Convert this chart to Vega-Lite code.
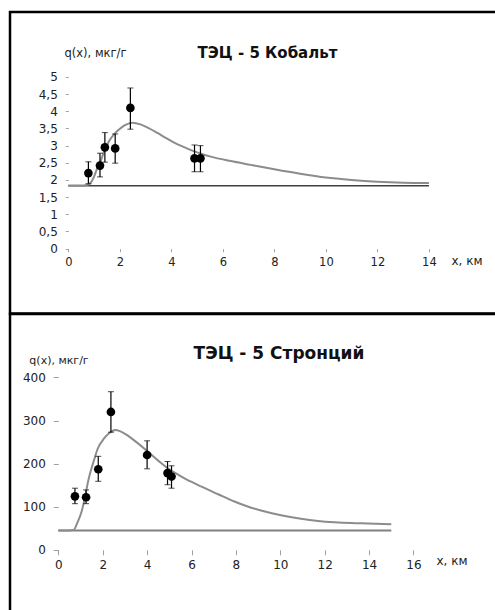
{
  "$schema": "https://vega.github.io/schema/vega-lite/v6.json",
  "padding": {"left": 8, "top": 10, "right": 0, "bottom": 0},
  "spacing": 0,
  "bounds": "flush",
  "config": {
    "view": {"stroke": "black", "strokeWidth": 2.5},
    "font": "DejaVu Sans",
    "axis": {"grid": false, "domain": false, "labelFont": "DejaVu Sans", "labelFontSize": 12, "labelColor": "#222222", "labelOverlap": false, "tickColor": "#a0a0a0", "tickSize": 3, "tickWidth": 1, "labelPadding": 3, "titleFont": "DejaVu Sans", "titleFontWeight": "normal", "titleColor": "#222222", "titleAngle": 0, "titleBaseline": "middle"}
  },
  "datasets": {
    "co_pts": [
      {"x": 0.78, "q": 2.2, "lo": 1.89, "hi": 2.53},
      {"x": 1.23, "q": 2.42, "lo": 2.09, "hi": 2.78},
      {"x": 1.42, "q": 2.95, "lo": 2.52, "hi": 3.38},
      {"x": 1.82, "q": 2.92, "lo": 2.49, "hi": 3.34},
      {"x": 2.41, "q": 4.1, "lo": 3.48, "hi": 4.68},
      {"x": 4.9, "q": 2.63, "lo": 2.24, "hi": 3.02},
      {"x": 5.13, "q": 2.63, "lo": 2.24, "hi": 3.0}
    ],
    "co_curve": [
      {"x": 0, "q": 1.84}, {"x": 0.6, "q": 1.84}, {"x": 0.75, "q": 1.86}, {"x": 0.88, "q": 1.93},
      {"x": 1.0, "q": 2.1}, {"x": 1.13, "q": 2.36}, {"x": 1.27, "q": 2.58}, {"x": 1.4, "q": 2.85},
      {"x": 1.59, "q": 3.14}, {"x": 1.8, "q": 3.35}, {"x": 1.98, "q": 3.48}, {"x": 2.2, "q": 3.6},
      {"x": 2.5, "q": 3.67}, {"x": 2.8, "q": 3.62}, {"x": 3.1, "q": 3.52}, {"x": 3.46, "q": 3.37},
      {"x": 3.8, "q": 3.22}, {"x": 4.11, "q": 3.09}, {"x": 4.45, "q": 2.97}, {"x": 4.76, "q": 2.87},
      {"x": 5.1, "q": 2.78}, {"x": 5.53, "q": 2.68}, {"x": 6.31, "q": 2.55}, {"x": 7.08, "q": 2.44},
      {"x": 8, "q": 2.31}, {"x": 9, "q": 2.18}, {"x": 10, "q": 2.07}, {"x": 11, "q": 2.0},
      {"x": 12, "q": 1.95}, {"x": 13, "q": 1.92}, {"x": 14, "q": 1.91}
    ],
    "co_base": [{"x0": 0, "x1": 14, "q": 1.83}],
    "sr_pts": [
      {"x": 0.75, "q": 124, "lo": 107, "hi": 143},
      {"x": 1.25, "q": 122, "lo": 107, "hi": 139},
      {"x": 1.8, "q": 187, "lo": 159, "hi": 217},
      {"x": 2.37, "q": 320, "lo": 273, "hi": 367},
      {"x": 4.0, "q": 220, "lo": 188, "hi": 253},
      {"x": 4.92, "q": 178, "lo": 151, "hi": 205},
      {"x": 5.1, "q": 170, "lo": 143, "hi": 195}
    ],
    "sr_curve": [
      {"x": 0, "q": 45}, {"x": 0.5, "q": 45}, {"x": 0.69, "q": 46}, {"x": 0.85, "q": 62},
      {"x": 1.05, "q": 89}, {"x": 1.2, "q": 121}, {"x": 1.33, "q": 156}, {"x": 1.62, "q": 210},
      {"x": 1.77, "q": 234}, {"x": 2.07, "q": 259}, {"x": 2.3, "q": 271}, {"x": 2.55, "q": 278},
      {"x": 2.8, "q": 275}, {"x": 3.1, "q": 266}, {"x": 3.42, "q": 254}, {"x": 4.03, "q": 228},
      {"x": 4.5, "q": 207}, {"x": 4.93, "q": 189}, {"x": 5.45, "q": 173}, {"x": 5.98, "q": 158},
      {"x": 6.43, "q": 147}, {"x": 7.2, "q": 129}, {"x": 7.93, "q": 112}, {"x": 8.5, "q": 101},
      {"x": 9.13, "q": 91}, {"x": 10.03, "q": 80}, {"x": 10.93, "q": 72}, {"x": 11.7, "q": 67},
      {"x": 12.43, "q": 64}, {"x": 13.2, "q": 62}, {"x": 13.94, "q": 61}, {"x": 15, "q": 59.5}
    ],
    "sr_base": [{"x0": 0, "x1": 15, "q": 45}]
  },
  "vconcat": [
    {
      "width": 500,
      "height": 301.5,
      "title": {"text": "ТЭЦ - 5 Кобальт", "anchor": "middle", "frame": "group", "baseline": "middle", "offset": -56, "dx": 7.5, "fontSize": 15, "fontWeight": "bold", "font": "DejaVu Sans", "color": "#111111"},
      "layer": [
        {
          "mark": {"type": "rule", "color": "#a6a6a6", "strokeWidth": 1.5},
          "encoding": {
            "x": {"datum": 0, "type": "quantitative", "scale": {"domain": [-2.263, 17.147], "nice": false, "zero": false}},
            "x2": {"datum": 14},
            "y": {"datum": 0, "type": "quantitative", "scale": {"domain": [-1.889, 6.893], "nice": false, "zero": false}}
          }
        },
        {
          "mark": {"type": "rule", "color": "#a6a6a6", "strokeWidth": 1.5},
          "encoding": {
            "x": {"datum": 0, "type": "quantitative", "scale": {"domain": [-2.263, 17.147], "nice": false, "zero": false}},
            "y": {"datum": 0, "type": "quantitative", "scale": {"domain": [-1.889, 6.893], "nice": false, "zero": false}},
            "y2": {"datum": 5}
          }
        },
        {
          "data": {"name": "co_base"},
          "mark": {"type": "rule", "color": "#404040", "strokeWidth": 1.5},
          "encoding": {
            "x": {"field": "x0", "type": "quantitative", "scale": {"domain": [-2.263, 17.147], "nice": false, "zero": false}},
            "x2": {"field": "x1"},
            "y": {"field": "q", "type": "quantitative", "scale": {"domain": [-1.889, 6.893], "nice": false, "zero": false}}
          }
        },
        {
          "data": {"name": "co_curve"},
          "mark": {"type": "line", "color": "#8c8c8c", "strokeWidth": 2, "interpolate": "monotone"},
          "encoding": {
            "x": {"field": "x", "type": "quantitative", "scale": {"domain": [-2.263, 17.147], "nice": false, "zero": false}},
            "y": {"field": "q", "type": "quantitative", "scale": {"domain": [-1.889, 6.893], "nice": false, "zero": false}}
          }
        },
        {
          "data": {"name": "co_pts"},
          "mark": {"type": "errorbar", "ticks": {"size": 6, "color": "black"}, "rule": {"color": "black", "strokeWidth": 1.2}},
          "encoding": {
            "x": {"field": "x", "type": "quantitative", "title": "x, км", "scale": {"domain": [-2.263, 17.147], "nice": false, "zero": false}},
            "y": {"field": "lo", "type": "quantitative", "title": "q(x), мкг/г", "scale": {"domain": [-1.889, 6.893], "nice": false, "zero": false}},
            "y2": {"field": "hi"}
          }
        },
        {
          "data": {"name": "co_pts"},
          "mark": {"type": "circle", "color": "black", "size": 75, "opacity": 1},
          "encoding": {
            "x": {"field": "x", "type": "quantitative", "scale": {"domain": [-2.263, 17.147], "nice": false, "zero": false},
              "axis": {"values": [0, 2, 4, 6, 8, 10, 12, 14], "offset": -64.8, "labelPadding": 5, "title": "x, км", "titleX": 441, "titleY": 12, "titleAlign": "left", "titleFontSize": 12, "labelFontSize": 11.5}},
            "y": {"field": "q", "type": "quantitative", "scale": {"domain": [-1.889, 6.893], "nice": false, "zero": false},
              "axis": {"values": [0, 0.5, 1, 1.5, 2, 2.5, 3, 3.5, 4, 4.5, 5], "tickCount": 11, "labelOverlap": false, "format": ".1~f", "labelExpr": "replace(datum.label, '.', ',')", "offset": -58.3, "labelPadding": 8, "title": "q(x), мкг/г", "titleX": 26.7, "titleY": 41, "titleAlign": "center", "titleFontSize": 11.5}}
          }
        }
      ]
    },
    {
      "width": 500,
      "height": 310,
      "title": {"text": "ТЭЦ - 5 Стронций", "anchor": "middle", "frame": "group", "baseline": "middle", "offset": -56.5, "dx": 19, "fontSize": 17, "fontWeight": "bold", "font": "DejaVu Sans", "color": "#111111"},
      "layer": [
        {
          "mark": {"type": "rule", "color": "#a6a6a6", "strokeWidth": 1.5},
          "encoding": {
            "x": {"datum": 0, "type": "quantitative", "scale": {"domain": [-2.176, 20.347], "nice": false, "zero": false}},
            "x2": {"datum": 16},
            "y": {"datum": 0, "type": "quantitative", "scale": {"domain": [-172.3, 547.4], "nice": false, "zero": false}}
          }
        },
        {
          "mark": {"type": "rule", "color": "#a6a6a6", "strokeWidth": 1.5},
          "encoding": {
            "x": {"datum": 0, "type": "quantitative", "scale": {"domain": [-2.176, 20.347], "nice": false, "zero": false}},
            "y": {"datum": 0, "type": "quantitative", "scale": {"domain": [-172.3, 547.4], "nice": false, "zero": false}},
            "y2": {"datum": 400}
          }
        },
        {
          "data": {"name": "sr_base"},
          "mark": {"type": "rule", "color": "#808080", "strokeWidth": 2},
          "encoding": {
            "x": {"field": "x0", "type": "quantitative", "scale": {"domain": [-2.176, 20.347], "nice": false, "zero": false}},
            "x2": {"field": "x1"},
            "y": {"field": "q", "type": "quantitative", "scale": {"domain": [-172.3, 547.4], "nice": false, "zero": false}}
          }
        },
        {
          "data": {"name": "sr_curve"},
          "mark": {"type": "line", "color": "#8c8c8c", "strokeWidth": 2, "interpolate": "monotone"},
          "encoding": {
            "x": {"field": "x", "type": "quantitative", "scale": {"domain": [-2.176, 20.347], "nice": false, "zero": false}},
            "y": {"field": "q", "type": "quantitative", "scale": {"domain": [-172.3, 547.4], "nice": false, "zero": false}}
          }
        },
        {
          "data": {"name": "sr_pts"},
          "mark": {"type": "errorbar", "ticks": {"size": 6, "color": "black"}, "rule": {"color": "black", "strokeWidth": 1.2}},
          "encoding": {
            "x": {"field": "x", "type": "quantitative", "title": "x, км", "scale": {"domain": [-2.176, 20.347], "nice": false, "zero": false}},
            "y": {"field": "lo", "type": "quantitative", "title": "q(x), мкг/г", "scale": {"domain": [-172.3, 547.4], "nice": false, "zero": false}},
            "y2": {"field": "hi"}
          }
        },
        {
          "data": {"name": "sr_pts"},
          "mark": {"type": "circle", "color": "black", "size": 75, "opacity": 1},
          "encoding": {
            "x": {"field": "x", "type": "quantitative", "scale": {"domain": [-2.176, 20.347], "nice": false, "zero": false},
              "axis": {"values": [0, 2, 4, 6, 8, 10, 12, 14, 16], "offset": -74.2, "tickSize": 5, "labelPadding": 5, "title": "x, км", "titleX": 426, "titleY": 11, "titleAlign": "left", "titleFontSize": 12}},
            "y": {"field": "q", "type": "quantitative", "scale": {"domain": [-172.3, 547.4], "nice": false, "zero": false},
              "axis": {"values": [0, 50, 100, 150, 200, 250, 300, 350, 400], "offset": -48.3, "tickSize": 5, "labelPadding": 8, "title": "q(x), мкг/г", "titleX": 0.2, "titleY": 46.5, "titleAlign": "center", "titleFontSize": 11}}
          }
        }
      ]
    }
  ]
}
